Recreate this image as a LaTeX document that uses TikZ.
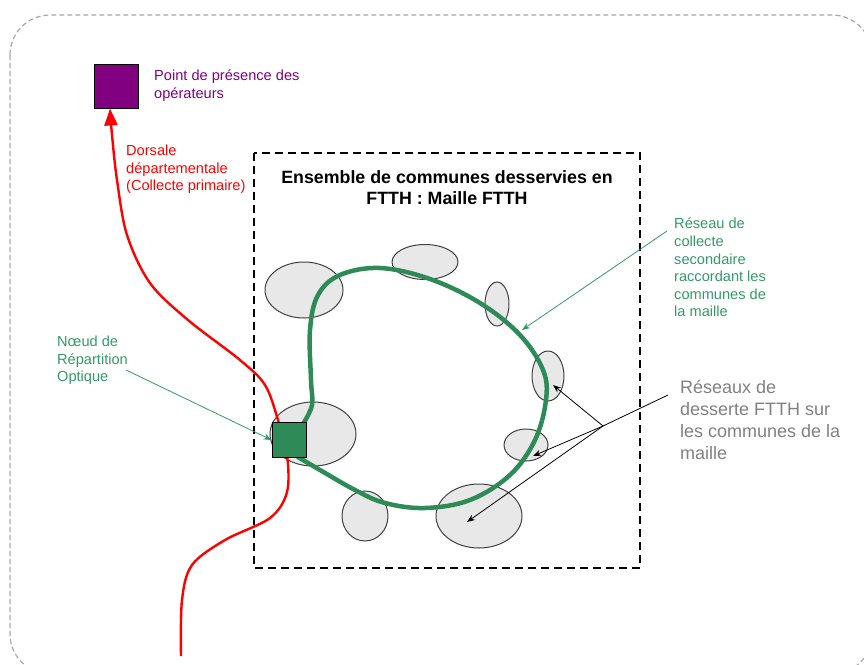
\documentclass[tikz,border=0pt]{standalone}
\usepackage{fontspec}
\setmainfont{Liberation Sans}
\usetikzlibrary{arrows.meta,shapes.geometric}
\definecolor{pur}{HTML}{800080}
\definecolor{grn}{HTML}{2E8B57}
\definecolor{grntxt}{HTML}{339966}
\definecolor{ellfill}{HTML}{E8E8E8}
\definecolor{ellline}{HTML}{404040}
\definecolor{outer}{HTML}{A8A8A8}
\definecolor{graytxt}{HTML}{808080}
\tikzset{
  lbl/.style={anchor=north west, inner sep=0pt, align=left, font=\fontsize{14.6}{17.6}\selectfont},
  commune/.style={draw=ellline, fill=ellfill, line width=1pt, ellipse},
  ptr/.style={line width=0.8pt, -{Stealth[length=8pt,width=6pt]}},
}
\begin{document}
\begin{tikzpicture}[x=1pt,y=-1pt]
\useasboundingbox (0,0) rectangle (864,664);
% outer frame
\draw[outer, line width=1.2pt, dash pattern=on 5pt off 3pt, rounded corners=40pt] (10,15) rectangle (872,674);
% inner dashed box
\draw[black, line width=1.6pt, dash pattern=on 8pt off 5pt] (254,153) rectangle (640,568);
\node[anchor=center, inner sep=0pt, align=center, font=\bfseries\fontsize{17.8}{21}\selectfont] (title) at (447,188) {Ensemble de communes desservies en\\FTTH : Maille FTTH};
% communes
\node[commune, minimum width=78pt, minimum height=56pt] (c1) at (304,290) {};
\node[commune, minimum width=66pt, minimum height=35pt] (c2) at (425,262) {};
\node[commune, minimum width=24pt, minimum height=44pt] (c3) at (497,304) {};
\node[commune, minimum width=32pt, minimum height=50pt] (c4) at (548,376) {};
\node[commune, minimum width=44pt, minimum height=32pt] (c5) at (526,445) {};
\node[commune, minimum width=86pt, minimum height=64pt] (c6) at (479,516) {};
\node[commune, minimum width=46pt, minimum height=50pt] (c7) at (365,516) {};
\node[commune, minimum width=86pt, minimum height=64pt] (c8) at (313,434) {};
% green loop
\draw[grn, line width=4.5pt, line cap=round] plot[smooth, tension=0.6] coordinates {(303,424) (312,405) (311,380) (310,330) (318,295) (340,275) (380,268) (430,279) (480,303) (520,335) (543,370) (546,400) (535,440) (510,475) (470,500) (425,508) (385,503) (355,490) (320,470) (298,457)};
% red backbone
\node[draw=black, fill=pur, minimum width=44pt, minimum height=44pt, inner sep=0pt, line width=0.8pt] (pop) at (116,86) {};
\coordinate (rstart) at (181,656);
\coordinate (rtip) at (110,108.5);
\draw[red, line width=2.4pt, -{Triangle[length=17pt,width=13pt]}] plot[smooth, tension=0.55] coordinates {(rstart) (182,600) (192,565) (225,540) (270,518) (287,492) (287,455) (278,420) (265,385) (240,360) (188,320) (150,283) (127,235) (117,180) (112,135) (rtip)};
% NRO
\node[draw=black, fill=grn, minimum width=34pt, minimum height=35pt, inner sep=0pt, line width=0.8pt] (nro) at (289,440) {};
% labels
\node[lbl, text=pur] (poplbl) at (154,70) {Point de présence des\\opérateurs};
\node[lbl, text=red] (redlbl) at (126,145) {Dorsale\\départementale\\(Collecte primaire)};
\node[lbl, text=grntxt] (nrolbl) at (57,336) {Nœud de\\Répartition\\Optique};
\node[lbl, text=grntxt] (collbl) at (674,218) {Réseau de\\collecte\\secondaire\\raccordant les\\communes de\\la maille};
\node[lbl, text=graytxt, font=\fontsize{18}{22}\selectfont] (deslbl) at (680,380) {Réseaux de\\desserte FTTH sur\\les communes de la\\maille};
% pointers
\coordinate (nroA) at (126,370);
\draw[ptr, grntxt] (nroA) -- (nro.west);
\coordinate (colA) at (667,231);
\coordinate (colB) at (522,330);
\draw[ptr, grntxt] (colA) -- (colB);
\coordinate (desA) at (668,395);
\coordinate (desJ) at (603,426);
\draw[line width=0.8pt] (desA) -- (desJ);
\draw[ptr] (desJ) -- (553,385);
\draw[ptr] (desJ) -- (533,456);
\draw[ptr] (desJ) -- (467,522);
\end{tikzpicture}
\end{document}
